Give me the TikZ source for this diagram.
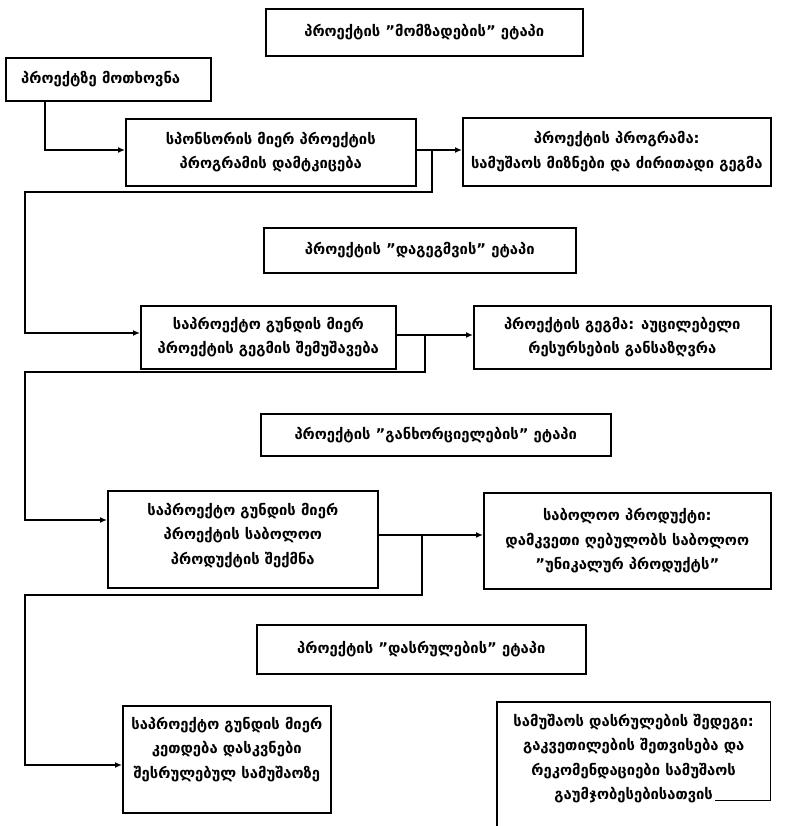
\documentclass[tikz,border=0pt]{standalone}
\usepackage{fontspec}
\setmainfont{DejaVu Sans}
\usetikzlibrary{arrows.meta}
\tikzset{
  x=1pt, y=-1pt,
  box/.style={draw, line width=1.6pt, inner sep=0pt, anchor=north west},
  phasebox/.style={draw, line width=1.6pt, inner sep=0pt, anchor=north west},
  txt/.style={align=center, font=\bfseries\fontsize{14.8}{24.5}\selectfont, inner sep=0pt},
  conn/.style={line width=1.4pt, -{Latex[length=7pt,width=6pt]}},
  line/.style={line width=1.4pt}
}
\begin{document}
\begin{tikzpicture}
\useasboundingbox (0,0) rectangle (800,826);
% phase boxes
\node[phasebox, minimum width=317, minimum height=47] (p1) at (265,8) {};
\node[txt] (tp1) at (p1.center) {პროექტის "მომზადების" ეტაპი};
\node[phasebox, minimum width=312, minimum height=45] (p2) at (263,227) {};
\node[txt] (tp2) at (p2.center) {პროექტის "დაგეგმვის" ეტაპი};
\node[phasebox, minimum width=350, minimum height=42] (p3) at (260,413) {};
\node[txt] (tp3) at (p3.center) {პროექტის "განხორციელების" ეტაპი};
\node[phasebox, minimum width=329, minimum height=49] (p4) at (256,624) {};
\node[txt] (tp4) at (p4.center) {პროექტის "დასრულების" ეტაპი};
% boxes
\node[box, minimum width=205, minimum height=43] (b2) at (5,57) {};
\node[txt, anchor=west] (t2) at ([xshift=16]b2.west) {პროექტზე მოთხოვნა};
\node[box, minimum width=290, minimum height=67] (b3) at (125,118) {};
\node[txt] (t3) at (b3.center) {სპონსორის მიერ პროექტის\\პროგრამის დამტკიცება};
\node[box, minimum width=308, minimum height=68] (b4) at (462,117) {};
\node[txt] (t4) at (b4.center) {პროექტის პროგრამა:\\სამუშაოს მიზნები და ძირითადი გეგმა};
\node[box, minimum width=255, minimum height=63] (b6) at (140,305) {};
\node[txt] (t6) at (b6.center) {საპროექტო გუნდის მიერ\\პროექტის გეგმის შემუშავება};
\node[box, minimum width=297, minimum height=63] (b7) at (473,305) {};
\node[txt] (t7) at (b7.center) {პროექტის გეგმა: აუცილებელი\\რესურსების განსაზღვრა};
\node[box, minimum width=270, minimum height=97] (b9) at (107,490) {};
\node[txt] (t9) at ([yshift=4]b9.center) {საპროექტო გუნდის მიერ\\პროექტის საბოლოო\\პროდუქტის შექმნა};
\node[box, minimum width=287, minimum height=96] (b10) at (483,492) {};
\node[txt] (t10) at (b10.center) {საბოლოო პროდუქტი:\\დამკვეთი ღებულობს საბოლოო\\"უნიკალურ პროდუქტს"};
\node[box, minimum width=208, minimum height=107] (b12) at (122,705) {};
\node[txt, anchor=north] (t12) at ([yshift=-12]b12.north) {საპროექტო გუნდის მიერ\\კეთდება დასკვნები\\შესრულებულ სამუშაოზე};
\node[inner sep=0pt, minimum width=273, minimum height=98, anchor=north west] (b13) at (497,702) {};
\node[txt, anchor=north] (t13) at ([yshift=-12]b13.north) {სამუშაოს დასრულების შედეგი:\\გაკვეთილების შეთვისება და\\რეკომენდაციები სამუშაოს\\გაუმჯობესებისათვის};
\draw[line width=1.6pt] ([xshift=-55]b13.south east) -- (b13.south east) -- (b13.north east) -- (b13.north west) -- ([yshift=-26]b13.south west);
% connectors
\coordinate (c1) at (45,150);
\draw[conn] (b2.south -| c1) -- (c1) -- (c1 -| b3.west);
\coordinate (j1) at (432,150);
\draw[conn] (b3.east |- j1) -- (j1 -| b4.west);
\coordinate (k1) at (25,192);
\coordinate (y6) at (0,333);
\draw[conn] (j1) -- (j1 |- k1) -- (k1) -- (k1 |- y6) -- (y6 -| b6.west);
\coordinate (j2) at (425,335);
\draw[conn] (b6.east |- j2) -- (j2 -| b7.west);
\coordinate (k2) at (25,372);
\coordinate (y9) at (0,520);
\draw[conn] (j2) -- (j2 |- k2) -- (k2) -- (k2 |- y9) -- (y9 -| b9.west);
\coordinate (j3) at (422,535);
\draw[conn] (b9.east |- j3) -- (j3 -| b10.west);
\coordinate (k3) at (25,595);
\coordinate (y12) at (0,765);
\draw[conn] (j3) -- (j3 |- k3) -- (k3) -- (k3 |- y12) -- (y12 -| b12.west);
\end{tikzpicture}
\end{document}
